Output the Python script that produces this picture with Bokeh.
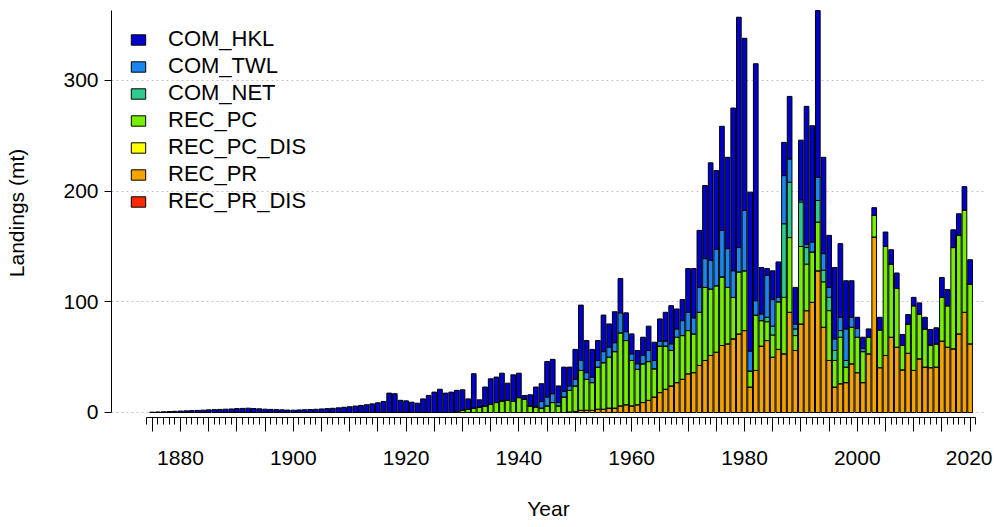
from bokeh.plotting import figure
from bokeh.models import ColumnDataSource, Range1d, FixedTicker, Legend, LegendItem
from bokeh.embed import file_html
from bokeh.resources import INLINE

# ---------------- data ----------------
years = list(range(1875, 2021))

series_names = ["COM_HKL", "COM_TWL", "COM_NET", "REC_PC", "REC_PC_DIS", "REC_PR", "REC_PR_DIS"]
series_colors = ["#0000CD", "#1C86EE", "#2FCB8E", "#76EE00", "#FFFF00", "#F5A300", "#FF2A00"]

com_hkl = [
    0.2, 0.4, 0.6, 0.9, 1.1, 1.3, 1.5, 1.7, 1.9, 2.1,          # 1875-1884
    2.4, 2.6, 2.8, 3.0, 3.2, 3.5, 3.7, 3.9, 3.6, 3.3,          # 1885-1894
    3.0, 2.8, 2.6, 2.4, 2.2, 2.1, 2.3, 2.5, 2.7, 2.9,          # 1895-1904
    3.2, 3.5, 3.8, 4.2, 4.7, 5.2, 5.8, 6.4, 7.0, 7.8,          # 1905-1914
    8.8, 10.0, 17.5, 17.0, 11.0, 10.5, 9.3, 8.4, 12.3, 15.4,   # 1915-1924
    18.4, 21.0, 17.5, 18.4, 19.0, 18.5, 9.3, 31.0, 6.4, 17.0,  # 1925-1934
    22.9, 23.0, 25.0, 15.5, 24.0, 22.0, 3.4, 10.0, 17.0, 16.0, # 1935-1944
    32.0, 31.0, 15.0, 22.0, 17.0, 27.0, 50.0, 29.0, 25.0, 18.0,  # 1945-1954
    33.0, 21.0, 28.0, 31.0, 17.0, 18.0, 12.0, 16.5, 22.0, 16.5,  # 1955-1964
    20.0, 26.0, 34.5, 18.0, 19.0, 39.5, 44.5, 51.5, 66.0, 88.0,  # 1965-1974
    71.0, 94.0, 82.5, 147.0, 208.0, 155.5, 143.5, 214.0, 42.0, 6.0,  # 1975-1984
    26.0, 32.0, 30.0, 56.5, 33.0, 54.0, 124.5, 105.0, 150.5, 87.0,   # 1985-1994
    47.0, 64.5, 66.5, 43.5, 33.0, 10.0, 10.0, 7.5, 7.0, 11.5,        # 1995-2004
    13.0, 13.0, 14.0, 10.0, 8.5, 7.5, 10.0, 10.5, 14.0, 14.5,        # 2005-2014
    18.0, 14.5, 16.0, 19.5, 21.0, 22.0,                              # 2015-2020
]

com_twl = [
    0, 0, 0, 0, 0, 0, 0, 0, 0, 0,
    0, 0, 0, 0, 0, 0, 0, 0, 0, 0,
    0, 0, 0, 0, 0, 0, 0, 0, 0, 0,
    0, 0, 0, 0, 0, 0, 0, 0, 0, 0,
    0, 0, 0, 0, 0, 0, 0, 0, 0, 0,
    0, 0, 0, 0, 0, 0, 0, 0, 0, 0,
    0, 0, 0, 0, 0, 0, 0, 0, 1.0, 6.0,
    8.0, 8.0, 3.0, 5.0, 4.0, 6.0, 9.0, 6.0, 5.0, 6.0,
    10.0, 9.0, 8.0, 18.0, 8.0, 6.0, 5.0, 7.5, 10.0, 7.5,
    4.5, 4.5, 6.0, 7.5, 13.5, 16.5, 14.5, 22.5, 26.0, 26.0,
    33.0, 42.0, 35.0, 24.0, 22.0, 54.5, 18.0, 13.0, 6.0, 38.0,
    24.0, 4.0, 43.5, 21.0, 4.5, 2.0, 3.0, 9.0, 21.0, 15.0,
    9.0, 10.5, 12.0, 28.5, 9.0, 8.0, 3.0, 0, 0, 0,
    0, 0, 0, 0, 0, 0, 0, 0, 0, 0,
    0, 0, 0, 0, 0, 0,
]

com_net = [
    0, 0, 0, 0, 0, 0, 0, 0, 0, 0,
    0, 0, 0, 0, 0, 0, 0, 0, 0, 0,
    0, 0, 0, 0, 0, 0, 0, 0, 0, 0,
    0, 0, 0, 0, 0, 0, 0, 0, 0, 0,
    0, 0, 0, 0, 0, 0, 0, 0, 0, 0,
    0, 0, 0, 0, 0, 0, 0, 0, 0, 0,
    0, 0, 0, 0, 0, 0, 0, 0, 0, 0,
    0, 0, 0, 0, 0, 0, 0, 0, 0, 0,
    0, 0, 0, 0, 0, 0, 0, 0, 0, 0,
    0, 0, 0, 0, 0, 0, 0, 0, 0, 0,
    0, 0, 0, 0, 0, 0, 0, 0, 0, 4.0,
    8.0, 0, 66.5, 50.0, 6.0, 40.0, 15.0, 0, 19.5, 10.5,
    12.0, 9.0, 6.0, 6.0, 0, 0, 0, 0, 0, 0,
    0, 0, 0, 0, 0, 0, 0, 0, 0, 0,
    0, 0, 0, 0, 0, 0,
]

rec_pc = [
    0, 0, 0, 0, 0, 0, 0, 0, 0, 0,
    0, 0, 0, 0, 0, 0, 0, 0, 0, 0,
    0, 0, 0, 0, 0, 0, 0, 0, 0, 0,
    0, 0, 0, 0, 0, 0, 0, 0, 0, 0,
    0, 0, 0, 0, 0, 0, 0, 0, 0, 0,
    0, 0, 0, 0, 1.0, 2.0, 3.0, 4.0, 5.0, 6.0,
    7.5, 9.0, 10.5, 11.0, 10.0, 13.5, 12.0, 6.0, 5.0, 4.0,
    6.0, 9.0, 6.0, 14.0, 19.5, 23.0, 36.0, 28.0, 25.0, 38.0,
    42.0, 46.0, 51.0, 66.0, 58.0, 41.0, 32.0, 35.0, 35.0, 25.5,
    42.0, 39.0, 32.0, 41.0, 39.5, 39.0, 35.0, 48.0, 66.0, 60.0,
    60.0, 62.0, 51.0, 37.5, 56.0, 54.0, 14.5, 50.0, 23.0, 17.0,
    20.0, 43.0, 51.0, 67.5, 13.5, 70.0, 42.0, 45.5, 44.0, 41.0,
    45.0, 24.0, 42.0, 14.0, 33.0, 32.0, 28.0, 15.0, 19.5, 34.0,
    98.5, 66.0, 53.0, 22.0, 26.5, 58.5, 40.5, 34.5, 20.5, 21.0,
    39.5, 37.5, 91.5, 89.0, 92.5, 54.0,
]

rec_pc_dis = [
    0, 0, 0, 0, 0, 0, 0, 0, 0, 0,
    0, 0, 0, 0, 0, 0, 0, 0, 0, 0,
    0, 0, 0, 0, 0, 0, 0, 0, 0, 0,
    0, 0, 0, 0, 0, 0, 0, 0, 0, 0,
    0, 0, 0, 0, 0, 0, 0, 0, 0, 0,
    0, 0, 0, 0, 0, 0, 0, 0, 0, 0,
    0, 0, 0, 0, 0, 0, 0, 0, 0, 0,
    0, 0, 0, 0, 0, 0, 0, 0, 0, 0,
    0, 0, 0, 0, 0, 0, 0, 0, 0, 0,
    0, 0, 0, 0, 0, 0, 0, 0, 0, 0,
    0, 0, 0, 0, 0, 0, 0, 0, 0, 0,
    0, 0, 0, 0, 0, 0, 0, 0, 0, 0,
    0, 0, 0, 0, 0, 0, 0, 0, 0, 0,
    0, 0, 0, 0, 0, 0, 0, 0, 0, 0,
    0, 0, 0, 0, 0, 0,
]

rec_pr = [
    0, 0, 0, 0, 0, 0, 0, 0, 0, 0,
    0, 0, 0, 0, 0, 0, 0, 0, 0, 0,
    0, 0, 0, 0, 0, 0, 0, 0, 0, 0,
    0, 0, 0, 0, 0, 0, 0, 0, 0, 0,
    0, 0, 0, 0, 0, 0, 0, 0, 0, 0,
    0, 0, 0, 0, 0, 0, 0, 0, 0, 0,
    0, 0, 0, 0, 0, 0, 0, 0, 0, 0,
    0, 0, 0, 0, 0.5, 1.0, 2.0, 2.0, 2.0, 3.0,
    3.0, 4.0, 4.0, 6.0, 7.0, 6.0, 7.0, 9.0, 11.0, 14.0,
    18.0, 21.0, 24.0, 27.0, 30.0, 35.0, 36.0, 42.5, 47.0, 51.5,
    54.5, 60.5, 62.0, 66.5, 71.0, 74.0, 23.0, 38.0, 60.0, 65.0,
    50.0, 57.0, 53.0, 90.5, 56.0, 80.0, 92.0, 99.5, 128.0, 77.0,
    47.0, 23.0, 26.0, 27.0, 44.0, 36.0, 27.0, 53.0, 158.5, 40.5,
    51.5, 68.0, 59.0, 38.5, 53.5, 38.0, 48.5, 41.0, 40.5, 41.0,
    64.5, 59.0, 57.5, 71.0, 90.5, 62.0,
]

rec_pr_dis = list(rec_pc_dis)  # no visible discards in either recreational mode

y_ticks = [0, 100, 200, 300]
x_major_ticks = list(range(1875, 2021, 5))
x_minor_ticks = list(range(1874, 2022))
x_labelled = [1880, 1900, 1920, 1940, 1960, 1980, 2000, 2020]

series_values = {
    "COM_HKL": com_hkl, "COM_TWL": com_twl, "COM_NET": com_net, "REC_PC": rec_pc,
    "REC_PC_DIS": rec_pc_dis, "REC_PR": rec_pr, "REC_PR_DIS": rec_pr_dis,
}
for k, v in series_values.items():
    assert len(v) == len(years), (k, len(v))

# ---------------- figure ----------------
FONT = "Liberation Sans"
W, H = 992, 526
p = figure(width=W, height=H,
           x_range=Range1d(1867.77, 2022.73), y_range=Range1d(-4.52, 364.9),
           min_border_left=111, min_border_right=W - 985, min_border_top=8,
           min_border_bottom=H - 417,
           toolbar_location=None, output_backend="svg", outline_line_color=None,
           background_fill_color="white", border_fill_color="white")

data = {"year": years}
data.update(series_values)
src = ColumnDataSource(data)

stack_order = list(reversed(series_names))          # bottom -> top
stack_colors = list(reversed(series_colors))
renderers = p.vbar_stack(stack_order, x="year", width=0.83, source=src,
                         fill_color=stack_colors, line_color="black", line_width=1)
by_name = dict(zip(stack_order, renderers))

# y axis
p.yaxis.ticker = FixedTicker(ticks=y_ticks)
p.yaxis.bounds = (0, 363)
p.yaxis.axis_label = "Landings (mt)"
p.yaxis.major_label_orientation = "horizontal"
p.yaxis.major_tick_out = 7
p.yaxis.major_tick_in = 0
p.yaxis.major_label_standoff = 6
p.yaxis.axis_label_standoff = 32

# x axis
p.xaxis.ticker = FixedTicker(ticks=x_major_ticks, minor_ticks=x_minor_ticks)
p.xaxis.major_label_overrides = {t: (str(t) if t in x_labelled else "") for t in x_major_ticks}
p.xaxis.bounds = (1874, 2021)
p.xaxis.axis_label = "Year"
p.xaxis.major_tick_out = 14
p.xaxis.major_tick_in = 0
p.xaxis.minor_tick_out = 7
p.xaxis.minor_tick_in = 0
p.xaxis.major_label_standoff = 19
p.xaxis.axis_label_standoff = 29

for ax in (p.xaxis, p.yaxis):
    ax.axis_line_color = "black"
    ax.major_tick_line_color = "black"
    ax.major_label_text_font = FONT
    ax.major_label_text_font_size = "21px"
    ax.major_label_text_color = "black"
    ax.axis_label_text_font = FONT
    ax.axis_label_text_font_size = "21px"
    ax.axis_label_text_font_style = "normal"
    ax.axis_label_text_color = "black"
p.xaxis.minor_tick_line_color = "black"
p.yaxis.minor_tick_line_color = None

# grid
p.xgrid.visible = False
p.ygrid.ticker = FixedTicker(ticks=y_ticks)
p.ygrid.grid_line_color = "#C4C4C4"
p.ygrid.grid_line_dash = "2 3"
p.ygrid.grid_line_width = 1

# legend (top to bottom in the same order as the names)
items = [LegendItem(label=n, renderers=[by_name[n]]) for n in series_names]
legend = Legend(items=items, location="top_left", padding=0, margin=18, spacing=1,
                glyph_width=18, glyph_height=13, label_standoff=21, label_height=24,
                label_text_font=FONT, label_text_font_size="22px", label_text_color="black",
                border_line_color=None, background_fill_alpha=0)
p.add_layout(legend)

open("out.html", "w").write(file_html(p, INLINE))
